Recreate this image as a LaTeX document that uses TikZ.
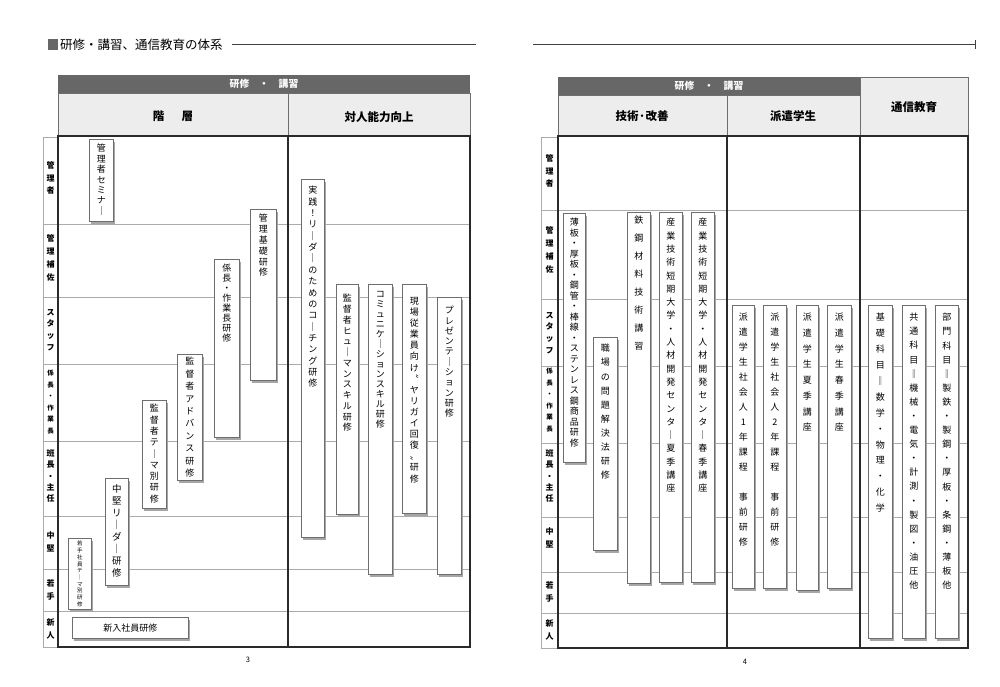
\documentclass[tikz,border=0pt]{standalone}
\usepackage{fontspec}
\setmainfont{Noto Sans CJK JP}
\usetikzlibrary{shadows}
\definecolor{band}{HTML}{676767}
\definecolor{subhead}{HTML}{EDEDED}
\definecolor{frame}{HTML}{2A2A2A}
\definecolor{rowline}{HTML}{ABABAB}
\definecolor{boxline}{HTML}{6E6E6E}

% vertical text: one character per line
\makeatletter
\newcommand\vlab[2]{% pitch, text
  \vbox{\baselineskip=#1pt\lineskiplimit=-20pt
    \@tfor\vch:=#2\do{\hbox to 1em{\hss\vch\hss}}}}
\newcommand\vcol[4]{% top skip, pitch, height, text
  \vbox to #3pt{\vskip#1pt\vlab{#2}{#4}\vfil}}
\makeatother

\begin{document}
\begin{tikzpicture}[x=1pt, y=-1pt,
  course/.style={draw=boxline, line width=0.6pt, fill=white, inner sep=0pt, anchor=north west,
    font=\fontsize{9}{10}\selectfont,
    drop shadow={shadow xshift=2pt, shadow yshift=-2.5pt, fill=gray!70, opacity=1}},
  rowlab/.style={inner sep=0pt, font=\fontsize{8}{9}\selectfont\bfseries},
  colhead/.style={font=\fontsize{11.5}{13}\selectfont\bfseries},
  bandtext/.style={text=white, font=\fontsize{9.8}{11}\selectfont\bfseries}
]
  \fill[white] (0,0) rectangle (1000,686);
  \useasboundingbox (0,0) rectangle (1000,686);

  % page title
  \fill[band] (48,39) rectangle (58,50);
  \node[anchor=west, inner sep=1pt, font=\fontsize{12.5}{14}\selectfont] (title) at (59,45) {研修・講習、通信教育の体系};
  \draw[line width=0.8pt, gray!50!black] (232,44) -- (476,44);
  \draw[line width=0.8pt, gray!50!black] (533,44) -- (975,44);
  \draw[line width=0.8pt, gray!50!black] (975,40) -- (975,49);

  %%%%%%%% page 3
  \fill[band] (58,75) rectangle (470,93);
  \node[bandtext] (bandL) at (264,84) {研修　・　講習};
  \draw[boxline, fill=subhead] (58,93) rectangle (288,136);
  \draw[boxline, fill=subhead] (288,93) rectangle (470,136);
  \node[colhead] (kaiso) at (173,116) {階\hspace{1.5em}層};
  \node[colhead] (taijin) at (379,117) {対人能力向上};

  % rows
  \draw[rowline, line width=0.6pt] (43,137) rectangle (58,647);
  \draw[rowline, line width=0.6pt] (43,224) -- (470,224) (43,297) -- (470,297) (43,364) -- (470,364)
    (43,441) -- (470,441) (43,516) -- (470,516) (43,569) -- (470,569) (43,611) -- (470,611);
  \draw[frame, line width=1.2pt] (58,136) rectangle (470,647);
  \draw[frame, line width=1.2pt] (288,136) -- (288,647);

  \node[rowlab] (l1) at (50.5,178) {\vlab{12.5}{管理者}};
  \node[rowlab] (l2) at (50.5,258) {\vlab{13}{管理補佐}};
  \node[rowlab] (l3) at (50.5,330) {\vlab{11.7}{スタッフ}};
  \node[rowlab, font=\fontsize{6.5}{7}\selectfont\bfseries] (l4) at (50.5,402) {\vlab{11.5}{係長・作業長}};
  \node[rowlab] (l5) at (50.5,476) {\vlab{11.3}{班長・主任}};
  \node[rowlab] (l6) at (50.5,542) {\vlab{13}{中堅}};
  \node[rowlab] (l7) at (50.5,590) {\vlab{13}{若手}};
  \node[rowlab] (l8) at (50.5,629) {\vlab{13}{新人}};

  % 階層
  \node[course, minimum width=24pt] (semi) at (89,139) {\vcol{5}{10.4}{82}{管理者セミナ｜}};
  \node[course, minimum width=26pt] (kiso) at (250,209) {\vcol{5}{10.8}{171}{管理基礎研修}};
  \node[course, minimum width=25pt] (kakari) at (214,259) {\vcol{5}{10}{178}{係長・作業長研修}};
  \node[course, minimum width=25pt] (advance) at (177,354) {\vcol{3}{12.4}{126}{監督者アドバンス研修}};
  \node[course, minimum width=24pt] (theme) at (142,400) {\vcol{4}{11.3}{108}{監督者テ｜マ別研修}};
  \node[course, minimum width=23pt, font=\fontsize{9.5}{10}\selectfont] (chuken) at (105,478) {\vcol{6}{12}{107}{中堅リ｜ダ｜研修}};
  \node[course, minimum width=23pt, font=\fontsize{5.5}{6}\selectfont] (wakate) at (68,538) {\vcol{3}{6.7}{71}{若手社員テ｜マ別研修}};
  \node[course, minimum width=116pt, minimum height=21pt, font=\fontsize{9}{10}\selectfont] (shinnyu) at (72,617) {新入社員研修};

  % 対人能力向上
  \node[course, minimum width=23pt] (coach) at (301,179) {\vcol{7}{11.35}{358}{実践！リ｜ダ｜のためのコ｜チング研修}};
  \node[course, minimum width=22pt] (human) at (336,284) {\vcol{10}{10.75}{230}{監督者ヒュ｜マンスキル研修}};
  \node[course, minimum width=24pt] (comm) at (368,284) {\vcol{7}{10}{290}{コミュニケ｜ションスキル研修}};
  \node[course, minimum width=24pt] (genba) at (402,284) {\vcol{13}{11.1}{229}{現場従業員向け〝ヤリガイ回復〟研修}};
  \node[course, minimum width=24pt] (pres) at (437,297) {\vcol{9}{10.3}{277}{プレゼンテ｜ション研修}};

  \node[font=\fontsize{7.5}{8}\selectfont] (p3) at (248,660) {3};

  %%%%%%%% page 4
  \fill[band] (558,77) rectangle (860,95);
  \node[bandtext] (bandR) at (709,86) {研修　・　講習};
  \draw[boxline, fill=subhead] (558,95) rectangle (727,136);
  \draw[boxline, fill=subhead] (727,95) rectangle (860,136);
  \draw[boxline, fill=subhead] (860,77) rectangle (968,136);
  \node[colhead] (gijutsu) at (642,116) {技術·改善};
  \node[colhead] (haken) at (793,116) {派遣学生};
  \node[colhead] (tsushin) at (914,107) {通信教育};

  % rows
  \draw[rowline, line width=0.6pt] (541,137) rectangle (558,648);
  \draw[rowline, line width=0.6pt] (541,210) -- (968,210) (541,299) -- (968,299) (541,366) -- (968,366)
    (541,443) -- (968,443) (541,517) -- (968,517) (541,572) -- (968,572) (541,613) -- (968,613);
  \draw[frame, line width=1.2pt] (558,136) rectangle (968,648);
  \draw[frame, line width=1.2pt] (727,136) -- (727,648);
  \draw[frame, line width=1.2pt] (860,136) -- (860,648);

  \node[rowlab] (r1) at (549.5,171) {\vlab{12.5}{管理者}};
  \node[rowlab] (r2) at (549.5,250) {\vlab{13}{管理補佐}};
  \node[rowlab] (r3) at (549.5,333) {\vlab{11.7}{スタッフ}};
  \node[rowlab, font=\fontsize{6.5}{7}\selectfont\bfseries] (r4) at (549.5,400) {\vlab{11.5}{係長・作業長}};
  \node[rowlab] (r5) at (549.5,476) {\vlab{11.3}{班長・主任}};
  \node[rowlab] (r6) at (549.5,538) {\vlab{13}{中堅}};
  \node[rowlab] (r7) at (549.5,592) {\vlab{13}{若手}};
  \node[rowlab] (r8) at (549.5,630) {\vlab{13}{新人}};

  % 技術・改善
  \node[course, minimum width=22pt] (usuita) at (563,213) {\vcol{5}{10.5}{249}{薄板・厚板・鋼管・棒線・ステンレス鋼商品研修}};
  \node[course, minimum width=24pt] (mondai) at (593,337) {\vcol{7}{14.1}{213}{職場の問題解決法研修}};
  \node[course, minimum width=23pt] (tekko) at (627,212) {\vcol{4}{18}{371}{鉄鋼材料技術講習}};
  \node[course, minimum width=23pt] (natsu) at (659,212) {\vcol{6}{13.3}{370}{産業技術短期大学・人材開発センタ｜夏季講座}};
  \node[course, minimum width=23pt] (haru) at (691,212) {\vcol{6}{13.3}{370}{産業技術短期大学・人材開発センタ｜春季講座}};

  % 派遣学生
  \node[course, minimum width=22pt] (haken1) at (732,305) {\vcol{8}{15}{283}{派遣学生社会人1年課程　事前研修}};
  \node[course, minimum width=23pt] (haken2) at (763,305) {\vcol{8}{15}{283}{派遣学生社会人2年課程　事前研修}};
  \node[course, minimum width=22pt] (hnatsu) at (796,305) {\vcol{8}{15.7}{285}{派遣学生夏季講座}};
  \node[course, minimum width=24pt] (hharu) at (827,305) {\vcol{8}{15.7}{283}{派遣学生春季講座}};

  % 通信教育
  \node[course, minimum width=24pt] (kisokamoku) at (868,305) {\vcol{8}{15.9}{333}{基礎科目‖数学・物理・化学}};
  \node[course, minimum width=23pt] (kyotsu) at (902,305) {\vcol{8}{14.1}{333}{共通科目‖機械・電気・計測・製図・油圧他}};
  \node[course, minimum width=23pt] (bumon) at (935,305) {\vcol{8}{14.1}{333}{部門科目‖製鉄・製鋼・厚板・条鋼・薄板他}};

  \node[font=\fontsize{7.5}{8}\selectfont] (p4) at (745,662) {4};
\end{tikzpicture}
\end{document}
